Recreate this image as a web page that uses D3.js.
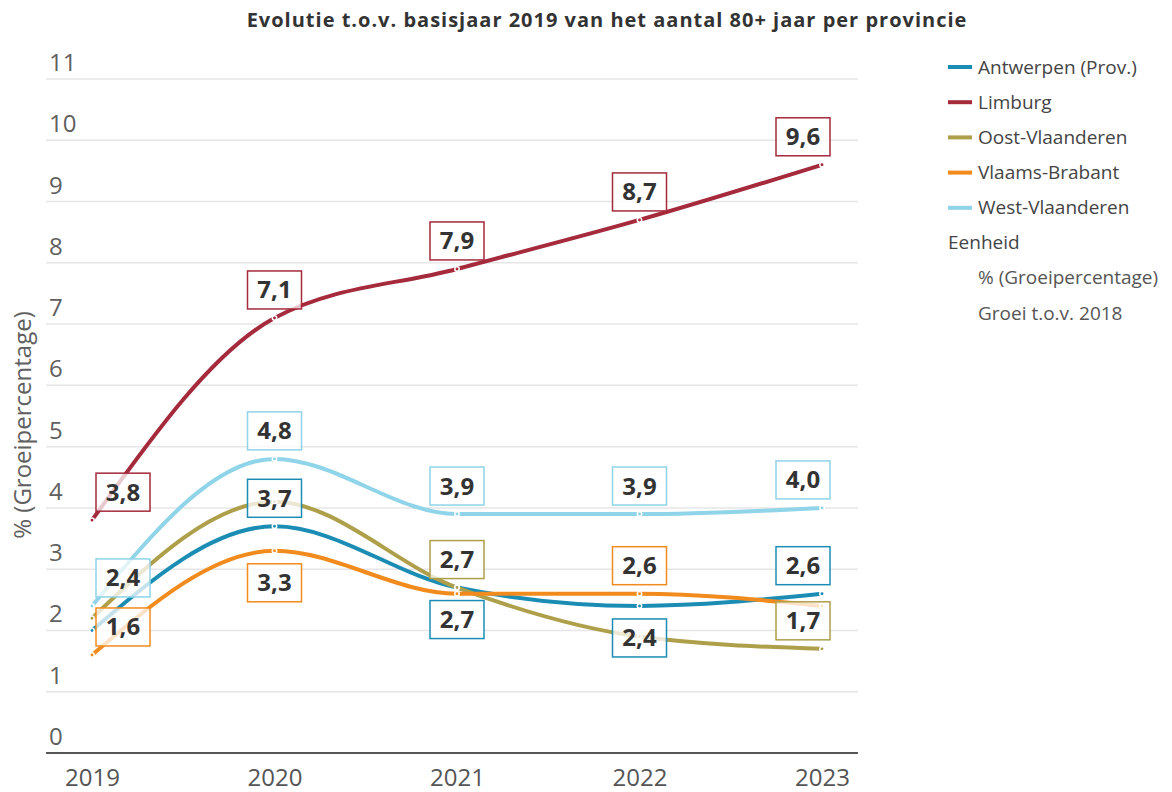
<!DOCTYPE html>
<html>
<head>
<meta charset="utf-8">
<script src="https://cdn.jsdelivr.net/npm/d3@7"></script>
<style>
    body { margin: 0; background: #fff; }
    text { font-family: "Open Sans", "Noto Sans", sans-serif; }
</style>
</head>
<body>
<div id="plot"></div>
<script>
// Data
// =================================
var years = ["2019", "2020", "2021", "2022", "2023"];
var yTicks = [0, 1, 2, 3, 4, 5, 6, 7, 8, 9, 10, 11];

var antwerpen = [2.0, 3.7, 2.7, 2.4, 2.6];
var limburg = [3.8, 7.1, 7.9, 8.7, 9.6];
var oostVlaanderen = [2.2, 4.1, 2.7, 1.9, 1.7];
var vlaamsBrabant = [1.6, 3.3, 2.6, 2.6, 2.4];
var westVlaanderen = [2.4, 4.8, 3.9, 3.9, 4.0];

var seriesNames = ["Antwerpen (Prov.)", "Limburg", "Oost-Vlaanderen", "Vlaams-Brabant", "West-Vlaanderen"];
var seriesValues = [antwerpen, limburg, oostVlaanderen, vlaamsBrabant, westVlaanderen];
var seriesColors = ["#1b8db4", "#a42a3c", "#ae9f4b", "#f28b1e", "#8fd4e8"];

// where each data label sits (null = hidden by the chart)
var labelSpots = [
    [null, "above", "below", "below", "above"],
    ["above", "above", "above", "above", "above"],
    [null, null, "above", null, "above"],
    ["above", "below", null, "above", null],
    ["above", "above", "above", "above", "above"]
];

var unitTitle = "Eenheid";
var unitItems = ["% (Groeipercentage)", "Groei t.o.v. 2018"];

// Workspace
// =================================
var svgWidth = 1172;
var svgHeight = 792;

var svg = d3.select("#plot")
    .append("svg")
    .attr("width", svgWidth)
    .attr("height", svgHeight);

// Scales
// =================================
var xScale = d3.scalePoint()
    .domain(years)
    .range([92, 822]);

var yScale = d3.scaleLinear()
    .domain([0, 11])
    .range([753, 79]);

var plotLeft = 46, plotRight = 858;

var comma = d3.formatLocale({decimal: ",", thousands: ".", grouping: [3], currency: ["", "€"]}).format(".1f");

// Title
svg.append("text")
    .attr("x", 607)
    .attr("y", 27)
    .attr("text-anchor", "middle")
    .attr("font-size", "20px")
    .attr("font-weight", "bold")
    .attr("letter-spacing", "1px")
    .attr("fill", "#333")
    .text("Evolutie t.o.v. basisjaar 2019 van het aantal 80+ jaar per provincie");

// Gridlines + y tick labels
var grid = svg.append("g");
grid.selectAll("line")
    .data(yTicks.filter(d => d > 0))
    .enter()
    .append("line")
    .attr("x1", plotLeft)
    .attr("x2", plotRight)
    .attr("y1", d => yScale(d))
    .attr("y2", d => yScale(d))
    .attr("stroke", "#e6e6e6")
    .attr("stroke-width", 1.5);

grid.selectAll("text")
    .data(yTicks)
    .enter()
    .append("text")
    .attr("x", 49)
    .attr("y", d => yScale(d) - 8)
    .attr("font-size", "24px")
    .attr("fill", "#606060")
    .text(d => d);

// x axis
var xAxis = d3.axisBottom(xScale).tickSize(0).tickPadding(16);
var xAxisGroup = svg.append("g")
    .attr("transform", `translate(0, ${yScale(0)})`)
    .call(xAxis);
xAxisGroup.select(".domain").remove();
xAxisGroup.append("line")
    .attr("x1", plotLeft)
    .attr("x2", plotRight)
    .attr("stroke", "#555")
    .attr("stroke-width", 2);
xAxisGroup.selectAll(".tick text")
    .attr("font-family", "Open Sans")
    .attr("font-size", "24px")
    .attr("fill", "#555");

// y axis title
svg.append("text")
    .attr("transform", "translate(31, 425) rotate(-90)")
    .attr("text-anchor", "middle")
    .attr("font-size", "24px")
    .attr("fill", "#606060")
    .text("% (Groeipercentage)");

// Lines
// =================================
var lineGenerator = d3.line()
    .x((d, i) => xScale(years[i]))
    .y(d => yScale(d))
    .curve(d3.curveMonotoneX);

seriesValues.forEach(function (values, s) {
    svg.append("path")
        .attr("d", lineGenerator(values))
        .attr("fill", "none")
        .attr("stroke", seriesColors[s])
        .attr("stroke-width", 4)
        .attr("stroke-linecap", "round");
});

// point markers
seriesValues.forEach(function (values, s) {
    svg.append("g").selectAll("circle")
        .data(values)
        .enter()
        .append("circle")
        .attr("cx", (d, i) => xScale(years[i]))
        .attr("cy", d => yScale(d))
        .attr("r", 2.2)
        .attr("fill", seriesColors[s])
        .attr("stroke", "#fff")
        .attr("stroke-width", 1.5);
});

// Data labels
// =================================
var boxW = 54, boxH = 38;
seriesValues.forEach(function (values, s) {
    values.forEach(function (v, i) {
        var spot = labelSpots[s][i];
        if (!spot) return;
        var cx = xScale(years[i]);
        var cy = yScale(v);
        var left = Math.max(96, Math.min(776, cx - boxW / 2));
        var top = spot === "above" ? cy - 47 : cy + 13;
        var g = svg.append("g").attr("transform", `translate(${left}, ${top})`);
        g.append("rect")
            .attr("width", boxW)
            .attr("height", boxH)
            .attr("fill", "#fff")
            .attr("fill-opacity", 0.75)
            .attr("stroke", seriesColors[s])
            .attr("stroke-width", 1.5);
        g.append("text")
            .attr("x", boxW / 2)
            .attr("y", boxH / 2 + 8.5)
            .attr("text-anchor", "middle")
            .attr("font-size", "24px")
            .attr("font-weight", "bold")
            .attr("fill", "#333")
            .text(comma(v));
    });
});

// Legend
// =================================
var legend = svg.append("g").attr("transform", "translate(948, 0)");
seriesNames.forEach(function (name, s) {
    var y = 67 + s * 35.2;
    legend.append("line")
        .attr("x1", 0)
        .attr("x2", 24)
        .attr("y1", y)
        .attr("y2", y)
        .attr("stroke", seriesColors[s])
        .attr("stroke-width", 4);
    legend.append("text")
        .attr("x", 30)
        .attr("y", y + 6.5)
        .attr("font-size", "19px")
        .attr("fill", "#444")
        .text(name);
});
legend.append("text")
    .attr("x", 0)
    .attr("y", 248.5)
    .attr("font-size", "19px")
    .attr("fill", "#444")
    .text(unitTitle);
unitItems.forEach(function (item, i) {
    legend.append("text")
        .attr("x", 30)
        .attr("y", 283.5 + i * 36.5)
        .attr("font-size", "19px")
        .attr("fill", "#555")
        .text(item);
});
</script>
</body>
</html>
